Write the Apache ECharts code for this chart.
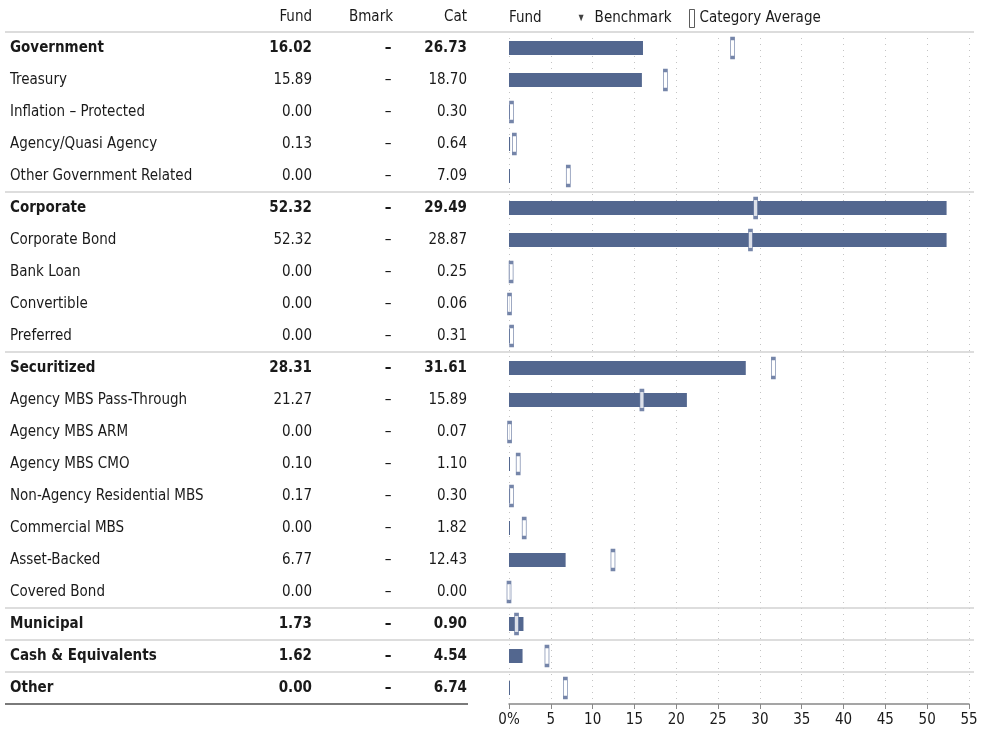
<!DOCTYPE html>
<html><head><meta charset="utf-8">
<script src="https://cdn.jsdelivr.net/npm/echarts@6/dist/echarts.min.js"></script>
<style>html,body{margin:0;padding:0;background:#fff}#c{width:984px;height:733px}</style>
</head><body><div id="c"></div>
<script>
var sectors = ['Government','Treasury','Inflation – Protected','Agency/Quasi Agency','Other Government Related','Corporate','Corporate Bond','Bank Loan','Convertible','Preferred','Securitized','Agency MBS Pass-Through','Agency MBS ARM','Agency MBS CMO','Non-Agency Residential MBS','Commercial MBS','Asset-Backed','Covered Bond','Municipal','Cash & Equivalents','Other'];
var fundValues = [16.02,15.89,0.00,0.13,0.00,52.32,52.32,0.00,0.00,0.00,28.31,21.27,0.00,0.10,0.17,0.00,6.77,0.00,1.73,1.62,0.00];
var benchmarkValues = [null,null,null,null,null,null,null,null,null,null,null,null,null,null,null,null,null,null,null,null,null];
var categoryValues = [26.73,18.70,0.30,0.64,7.09,29.49,28.87,0.25,0.06,0.31,31.61,15.89,0.07,1.10,0.30,1.82,12.43,0.00,0.90,4.54,6.74];
var groupHeaderRows = [0,5,10,18,19,20];
var xTicks = [0,5,10,15,20,25,30,35,40,45,50,55];
var xTickLabels = ['0%','5','10','15','20','25','30','35','40','45','50','55'];
var columnHeaders = ['Fund','Bmark','Cat'];

var FONT = "'Liberation Sans Narrow','DejaVu Sans Condensed','Roboto Condensed',sans-serif";
var FS = 15;
var TXT = '#1a1a1a';
var chart = echarts.init(document.getElementById('c'), null, {renderer:'canvas'});

function isGroup(i){ return groupHeaderRows.indexOf(i) >= 0; }
function fmt(v){ return v == null ? '–' : v.toFixed(2); }

var colX = [312, 393, 467];

var option = {
  backgroundColor:'#fff',
  animation:false,
  textStyle:{fontFamily:FONT},
  grid:{left:509, right:15, top:32, bottom:29, containLabel:false},
  legend:[
    {
      left:494, top:4, itemWidth:5, itemHeight:18, itemGap:37, selectedMode:false,
      textStyle:{fontFamily:FONT, fontSize:FS, color:TXT},
      data:[
        {name:'Fund', icon:'none'},
        {name:'Benchmark', icon:'path://M0,0L6,0L3,8Z', itemStyle:{color:'#111', borderWidth:0}, textStyle:{padding:[0,0,0,6]}}
      ]
    },
    {
      left:684, top:4, itemWidth:5, itemHeight:18, selectedMode:false,
      textStyle:{fontFamily:FONT, fontSize:FS, color:TXT},
      data:[
        {name:'Category Average', icon:'rect', itemStyle:{color:'#fff', borderColor:'#333', borderWidth:1}}
      ]
    }
  ],
  graphic: columnHeaders.map(function(h, k){
    return {type:'text', right: 984 - colX[k], top: 10, style:{text:h, fontFamily:FONT, fontSize:FS, fill:TXT}};
  }),
  xAxis:{
    type:'value', min:0, max:55, interval:5,
    axisLine:{show:true, lineStyle:{color:'#888', width:1.5}},
    axisTick:{show:true, length:5, lineStyle:{color:'#888'}},
    axisLabel:{fontFamily:FONT, fontSize:FS, color:TXT, margin:9,
      formatter:function(v){ var k = xTicks.indexOf(v); return k >= 0 ? xTickLabels[k] : ''; }},
    splitLine:{show:true, lineStyle:{color:'#c4c4c4', type:[1,5], width:1}}
  },
  yAxis:{
    type:'category', inverse:true, data:sectors,
    axisLine:{show:false}, axisTick:{show:false}, axisLabel:{show:false}, splitLine:{show:false}
  },
  series:[
    {
      type:'custom', name:'separators', clip:false, silent:true, z:1,
      data: groupHeaderRows.map(function(r){ return [0, r]; }),
      renderItem:function(params, api){
        var r = api.value(1);
        var half = api.size([0,1])[1] / 2;
        var y = api.coord([0, r])[1] - half;
        var children = [{type:'line', shape:{x1:5, y1:y, x2:974, y2:y}, style:{stroke: r === 0 ? '#dcdcdc' : '#d2d2d2', lineWidth: r === 0 ? 2 : 1.5}}];
        if (r === sectors.length - 1) {
          var yb = api.coord([0, r])[1] + half;
          children.push({type:'line', shape:{x1:5, y1:yb, x2:468, y2:yb}, style:{stroke:'#7a7a7a', lineWidth:2}});
        }
        return {type:'group', children:children};
      }
    },
    {
      type:'bar', name:'Fund', data:fundValues, barWidth:14, barMinHeight:1,
      itemStyle:{color:'#53678f'}, z:3
    },
    {
      type:'scatter', name:'Benchmark', data:benchmarkValues, symbol:'triangle', symbolSize:8,
      itemStyle:{color:'#111'}, z:4
    },
    {
      type:'scatter', name:'Category Average', data:categoryValues, symbol:'rect', symbolSize:[4,19],
      itemStyle:{color:'#fff', borderColor:'#526693', borderWidth:1.5}, z:5
    },
    {
      type:'custom', name:'table', clip:false, silent:true, z:6,
      data: sectors.map(function(s, i){ return [0, i]; }),
      renderItem:function(params, api){
        var i = api.value(1);
        var y = api.coord([0, i])[1];
        var w = isGroup(i) ? 'bold' : 'normal';
        var base = {fontFamily:FONT, fontSize:FS, fontWeight:w, fill:TXT, verticalAlign:'middle'};
        function t(text, x, align){ return {type:'text', style:Object.assign({}, base, {text:text, x:x, y:y, align:align})}; }
        return {type:'group', children:[
          t(sectors[i], 10, 'left'),
          t(fmt(fundValues[i]), colX[0], 'right'),
          t(fmt(benchmarkValues[i]), 388, 'center'),
          t(fmt(categoryValues[i]), colX[2], 'right')
        ]};
      }
    }
  ]
};
chart.setOption(option);
</script></body></html>
